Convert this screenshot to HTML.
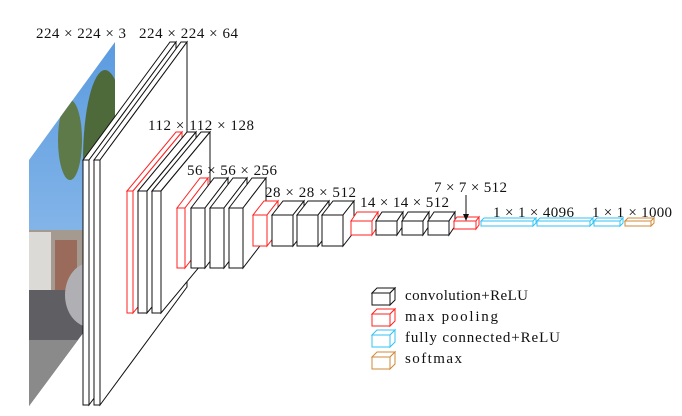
<!DOCTYPE html>
<html><head><meta charset="utf-8"><style>
html,body{margin:0;padding:0;background:#fff;}
svg{display:block;}
text{font-family:"Liberation Serif",serif;font-size:15px;fill:#111;}
</style></head><body>
<svg width="682" height="416" viewBox="0 0 682 416" xmlns="http://www.w3.org/2000/svg">
<defs>
<clipPath id="ph"><polygon points="29,160 115,42 115,290 29,406"/></clipPath>
<linearGradient id="sky" x1="0" y1="0" x2="0" y2="1">
<stop offset="0" stop-color="#5b9be0"/><stop offset="1" stop-color="#a8ccf0"/></linearGradient>
</defs>
<g clip-path="url(#ph)">
<rect x="29" y="40" width="90" height="370" fill="url(#sky)"/>
<ellipse cx="105" cy="160" rx="22" ry="90" fill="#4e6a3a"/>
<ellipse cx="70" cy="140" rx="12" ry="40" fill="#5d7a48"/>
<rect x="29" y="230" width="90" height="65" fill="#a49a90"/>
<rect x="29" y="232" width="22" height="60" fill="#dcdad6"/>
<rect x="55" y="240" width="22" height="50" fill="#9a6a5a"/>
<rect x="29" y="290" width="90" height="120" fill="#5f5f63"/>
<ellipse cx="90" cy="295" rx="25" ry="32" fill="#b0b0b4"/>
<rect x="29" y="340" width="90" height="70" fill="#8a8a8a"/>
</g>
<g fill="#fff" stroke="#111" stroke-width="1">
<polygon points="83,160 170,42 176,42 89,160"/><polygon points="89,160 176,42 176,287 89,405"/><rect x="83" y="160" width="6" height="245"/>
<polygon points="94,160 181,42 187,42 100,160"/><polygon points="100,160 187,42 187,287 100,405"/><rect x="94" y="160" width="6" height="245"/>
</g>
<g fill="#fff" stroke-width="1">
<g stroke="#f22"><polygon points="127,191 176,132 182,132 133,191"/><polygon points="133,191 182,132 182,254 133,313"/><rect x="127" y="191" width="6" height="122"/></g>
<g stroke="#111"><polygon points="138,191 187,132 196,132 147,191"/><polygon points="147,191 196,132 196,254 147,313"/><rect x="138" y="191" width="9" height="122"/>
<polygon points="152,191 201,132 210,132 161,191"/><polygon points="161,191 210,132 210,254 161,313"/><rect x="152" y="191" width="9" height="122"/></g>
<g stroke="#f22"><polygon points="177,208 200,178 208,178 185,208"/><polygon points="185,208 208,178 208,238 185,268"/><rect x="177" y="208" width="8" height="60"/></g>
<g stroke="#111">
<polygon points="191,208 214,178 228,178 205,208"/><polygon points="205,208 228,178 228,238 205,268"/><rect x="191" y="208" width="14" height="60"/>
<polygon points="210,208 233,178 247,178 224,208"/><polygon points="224,208 247,178 247,238 224,268"/><rect x="210" y="208" width="14" height="60"/>
<polygon points="229,208 252,178 266,178 243,208"/><polygon points="243,208 266,178 266,238 243,268"/><rect x="229" y="208" width="14" height="60"/></g>
<g stroke="#f22"><polygon points="253,215 264,201 278,201 267,215"/><polygon points="267,215 278,201 278,232 267,246"/><rect x="253" y="215" width="14" height="31"/></g>
<g stroke="#111">
<polygon points="272,215 283,201 304,201 293,215"/><polygon points="293,215 304,201 304,232 293,246"/><rect x="272" y="215" width="21" height="31"/>
<polygon points="297,215 308,201 329,201 318,215"/><polygon points="318,215 329,201 329,232 318,246"/><rect x="297" y="215" width="21" height="31"/>
<polygon points="322,215 333,201 354,201 343,215"/><polygon points="343,215 354,201 354,232 343,246"/><rect x="322" y="215" width="21" height="31"/></g>
<g stroke="#f22"><polygon points="351,221 357,212 378,212 372,221"/><polygon points="372,221 378,212 378,226 372,235"/><rect x="351" y="221" width="21" height="14"/></g>
<g stroke="#111">
<polygon points="376,221 382,212 403,212 397,221"/><polygon points="397,221 403,212 403,226 397,235"/><rect x="376" y="221" width="21" height="14"/>
<polygon points="402,221 408,212 429,212 423,221"/><polygon points="423,221 429,212 429,226 423,235"/><rect x="402" y="221" width="21" height="14"/>
<polygon points="428,221 434,212 455,212 449,221"/><polygon points="449,221 455,212 455,226 449,235"/><rect x="428" y="221" width="21" height="14"/></g>
<g stroke="#f22"><polygon points="454,221 457,217 479,217 476,221"/><polygon points="476,221 479,217 479,225 476,229"/><rect x="454" y="221" width="22" height="8"/></g>
<g stroke="#33c3f5">
<polygon points="481,221 484,218 536,218 533,221"/><polygon points="533,221 536,218 536,223 533,226"/><rect x="481" y="221" width="52" height="5"/>
<polygon points="537,221 540,218 593,218 590,221"/><polygon points="590,221 593,218 593,223 590,226"/><rect x="537" y="221" width="53" height="5"/>
<polygon points="594,221 597,218 623,218 620,221"/><polygon points="620,221 623,218 623,223 620,226"/><rect x="594" y="221" width="26" height="5"/></g>
<g stroke="#d08a3a">
<polygon points="625,221 628,218 654,218 651,221"/><polygon points="651,221 654,218 654,223 651,226"/><rect x="625" y="221" width="26" height="5"/></g>
</g>
<line x1="466" y1="195" x2="466" y2="215" stroke="#111" stroke-width="1"/>
<polygon points="463,214 469,214 466,221" fill="#111"/>
<text x="36" y="38" textLength="90" lengthAdjust="spacing">224 × 224 × 3</text>
<text x="139" y="38" textLength="99" lengthAdjust="spacing">224 × 224 × 64</text>
<text x="148" y="130" textLength="106" lengthAdjust="spacing">112 × 112 × 128</text>
<text x="187" y="175" textLength="90" lengthAdjust="spacing">56 × 56 × 256</text>
<text x="265" y="197" textLength="91" lengthAdjust="spacing">28 × 28 × 512</text>
<text x="360" y="207" textLength="89" lengthAdjust="spacing">14 × 14 × 512</text>
<text x="434" y="192" textLength="73" lengthAdjust="spacing">7 × 7 × 512</text>
<text x="493" y="217" textLength="81" lengthAdjust="spacing">1 × 1 × 4096</text>
<text x="592" y="217" textLength="80" lengthAdjust="spacing">1 × 1 × 1000</text>
<g fill="#fff" stroke-width="1">
<g stroke="#111"><polygon points="372,293 377,288 395,288 390,293"/><polygon points="390,293 395,288 395,300 390,305"/><rect x="372" y="293" width="18" height="12"/></g>
<g stroke="#f22"><polygon points="372,314 377,309 395,309 390,314"/><polygon points="390,314 395,309 395,321 390,326"/><rect x="372" y="314" width="18" height="12"/></g>
<g stroke="#33c3f5"><polygon points="372,335 377,330 395,330 390,335"/><polygon points="390,335 395,330 395,342 390,347"/><rect x="372" y="335" width="18" height="12"/></g>
<g stroke="#d08a3a"><polygon points="372,357 377,352 395,352 390,357"/><polygon points="390,357 395,352 395,364 390,369"/><rect x="372" y="357" width="18" height="12"/></g>
</g>
<text x="405" y="300" textLength="123" lengthAdjust="spacing">convolution+ReLU</text>
<text x="405" y="321" textLength="93" lengthAdjust="spacing">max pooling</text>
<text x="405" y="342" textLength="155" lengthAdjust="spacing">fully connected+ReLU</text>
<text x="405" y="363" textLength="57" lengthAdjust="spacing">softmax</text>
</svg>
</body></html>
